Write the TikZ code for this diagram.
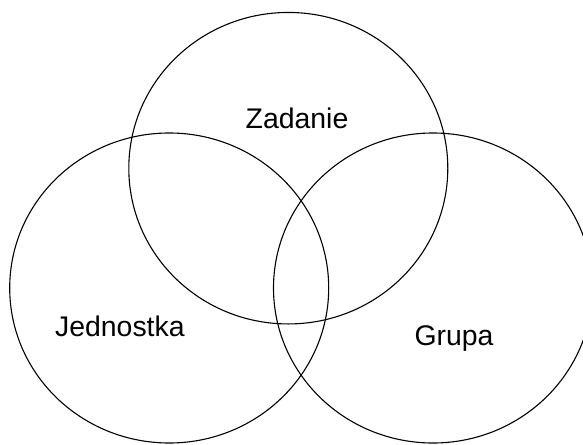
\documentclass[tikz,border=0pt]{standalone}
\usepackage{fontspec}
\setmainfont{Liberation Sans}
\usetikzlibrary{shapes.geometric}
\tikzset{
  venn/.style={ellipse, draw=black, line width=1.1pt, inner sep=0pt, outer sep=0pt,
    minimum width=319pt, minimum height=310pt},
  lbl/.style={inner sep=0pt, anchor=base, font=\fontsize{28.4}{34}\selectfont}
}
\begin{document}
\begin{tikzpicture}[x=1pt,y=-1pt]
\useasboundingbox (0,0) rectangle (583,444);
\clip (0,0) rectangle (583,444);
\node[venn, minimum height=311.5pt] (top) at (288.3,168.2) {};
\node[venn] (left) at (169.2,288) {};
\node[venn] (right) at (433,288) {};
\node[lbl] (zadanie) at (297,128.3) {Zadanie};
\node[lbl] (jednostka) at (119.9,336) {Jednostka};
\node[lbl] (grupa) at (454,345) {Grupa};
\end{tikzpicture}
\end{document}
